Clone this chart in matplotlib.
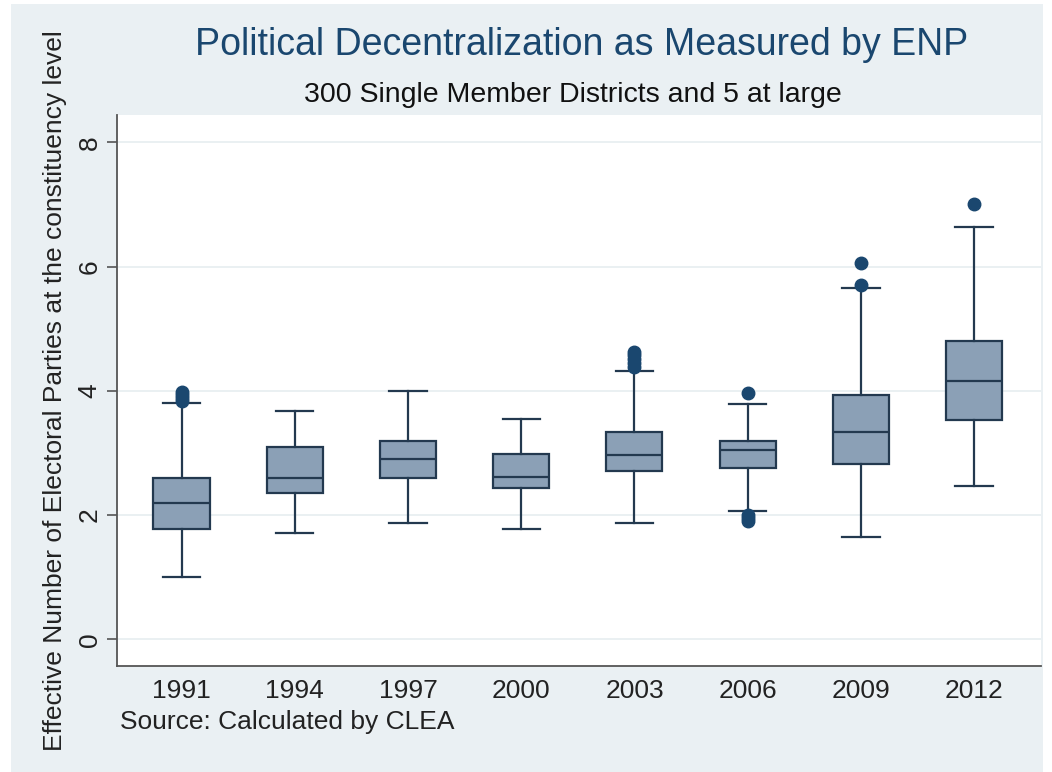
import matplotlib.pyplot as plt
from matplotlib.patches import Rectangle

plt.rcParams["font.family"] = ["Liberation Sans", "DejaVu Sans"]

# Effective number of parties per election year, summarised as box-plot stats
years = ["1991", "1994", "1997", "2000", "2003", "2006", "2009", "2012"]
whislo = [1.01, 1.71, 1.87, 1.78, 1.88, 2.07, 1.65, 2.46]
q1 = [1.78, 2.36, 2.59, 2.43, 2.71, 2.75, 2.83, 3.53]
med = [2.20, 2.59, 2.91, 2.62, 2.97, 3.04, 3.33, 4.16]
q3 = [2.60, 3.10, 3.20, 2.98, 3.33, 3.19, 3.93, 4.80]
whishi = [3.81, 3.68, 4.00, 3.55, 4.32, 3.78, 5.65, 6.64]
fliers = [
    [3.84, 3.89, 3.94, 3.98],
    [],
    [],
    [],
    [4.38, 4.45, 4.52, 4.58, 4.63],
    [3.96, 1.90, 1.95, 2.00],
    [6.06, 5.71],
    [7.00],
]

NAVY = "#1a476f"
EDGE = "#23394f"
FILL = "#8ba0b6"
BG = "#eaf0f3"

stats = [
    dict(label=y, whislo=lo, q1=a, med=m, q3=b, whishi=hi, fliers=f)
    for y, lo, a, m, b, hi, f in zip(years, whislo, q1, med, q3, whishi, fliers)
]

fig = plt.figure(figsize=(10.52, 7.72), dpi=100, facecolor="white")
fig.patches.append(Rectangle((11 / 1052, 0), 1032 / 1052, 768 / 772,
                             transform=fig.transFigure, facecolor=BG,
                             edgecolor="none", zorder=-10))

ax = fig.add_axes([0.1112, 0.1373, 0.8783, 0.7137])
ax.set_facecolor("white")

ax.bxp(
    stats,
    positions=range(1, len(years) + 1),
    widths=0.495,
    patch_artist=True,
    boxprops=dict(facecolor=FILL, edgecolor=EDGE, linewidth=1.6),
    medianprops=dict(color=EDGE, linewidth=1.6),
    whiskerprops=dict(color=EDGE, linewidth=1.6),
    capprops=dict(color=EDGE, linewidth=1.6),
    capwidths=0.33,
    flierprops=dict(marker="o", markerfacecolor=NAVY, markeredgecolor=NAVY,
                    markersize=9),
)

ax.set_xlim(0.43, 8.59)
ax.set_ylim(-0.43, 8.44)
ax.set_yticks([0, 2, 4, 6, 8])
ax.yaxis.grid(True, color="#e6eef0", linewidth=1.2)
ax.set_axisbelow(True)

for side in ("top", "right"):
    ax.spines[side].set_visible(False)
for side in ("left", "bottom"):
    ax.spines[side].set_color("#555555")
    ax.spines[side].set_linewidth(1.3)

ax.tick_params(axis="x", length=0, labelsize=19, labelcolor="#222222", pad=9)
ax.tick_params(axis="y", length=7, width=1.2, color="#555555", labelsize=19,
               labelcolor="#222222", pad=4)
for lbl in ax.get_yticklabels():
    lbl.set_rotation(90)
    lbl.set_va("center")

ax.set_ylabel("Effective Number of Electoral Parties at the constituency level",
              fontsize=19, color="#222222", labelpad=8)

fig.text(0.553, 0.942, "Political Decentralization as Measured by ENP",
         ha="center", va="center", fontsize=27, color=NAVY)
fig.text(0.545, 0.877, "300 Single Member Districts and 5 at large",
         ha="center", va="center", fontsize=20.5, color="#111111")
fig.text(0.114, 0.065, "Source: Calculated by CLEA", ha="left", va="center",
         fontsize=19, color="#222222")

fig.savefig("out.png", dpi=100, facecolor=fig.get_facecolor())
